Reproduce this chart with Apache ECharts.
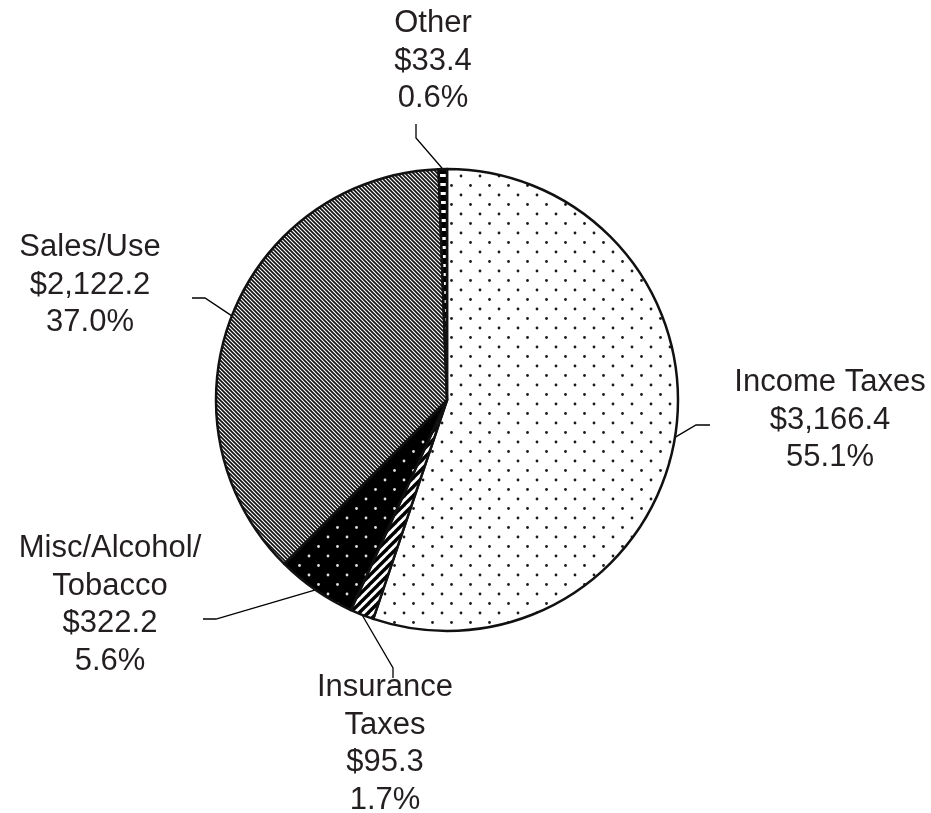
<!DOCTYPE html>
<html>
<head>
<meta charset="utf-8">
<script src="https://cdn.jsdelivr.net/npm/echarts@6/dist/echarts.min.js"></script>
<style>
  html, body { margin: 0; padding: 0; background: #fff; }
  #chart { width: 931px; height: 813px; }
</style>
</head>
<body>
<div id="chart"></div>
<script>
// slices clockwise from 12 o'clock
const names = ['Income Taxes', 'Insurance\nTaxes', 'Misc/Alcohol/\nTobacco', 'Sales/Use', 'Other'];
const amounts = ['$3,166.4', '$95.3', '$322.2', '$2,122.2', '$33.4'];
const values = [3166.4, 95.3, 322.2, 2122.2, 33.4];
const shares = ['55.1%', '1.7%', '5.6%', '37.0%', '0.6%'];

// label placement, relative to pie centre: text centre, then leader line bend / end
const labelSpots = [
  { dx: 383, dy: 20, bend: [249, 25], end: [263, 25] },
  { dx: -62, dy: 344, bend: [-54, 268], end: [-54, 278] },
  { dx: -337, dy: 205, bend: [-231, 219], end: [-244, 219] },
  { dx: -357, dy: -115, bend: [-242, -102], end: [-255, -102] },
  { dx: -14, dy: -339, bend: [-31, -262], end: [-31, -276] }
];

const cx = 447, cy = 400, R = 231;

function tile(w, h, draw) {
  const c = document.createElement('canvas');
  c.width = w; c.height = h;
  const g = c.getContext('2d');
  draw(g, w, h);
  return c;
}

function dots(bg, fg) {
  return tile(19, 19, (g, w, h) => {
    g.fillStyle = bg; g.fillRect(0, 0, w, h);
    g.fillStyle = fg;
    g.beginPath(); g.arc(5, 5, 1.4, 0, Math.PI * 2); g.fill();
    g.beginPath(); g.arc(14.5, 14.5, 1.4, 0, Math.PI * 2); g.fill();
  });
}

const patterns = [
  dots('#fff', '#1a1a1a'),
  tile(9, 9, (g, w, h) => {
    g.fillStyle = '#fff'; g.fillRect(0, 0, w, h);
    g.strokeStyle = '#000'; g.lineWidth = 3.4;
    for (let k = -1; k <= 1; k++) {
      g.beginPath(); g.moveTo(k * w - 1, h + 1); g.lineTo(k * w + w + 1, -1); g.stroke();
    }
  }),
  dots('#000', '#e0e0e0'),
  tile(4, 4, (g, w, h) => {
    g.fillStyle = '#fff'; g.fillRect(0, 0, w, h);
    g.strokeStyle = '#111'; g.lineWidth = 1.7;
    for (let k = -1; k <= 1; k++) {
      g.beginPath(); g.moveTo(k * w - 1, -1); g.lineTo(k * w + w + 1, h + 1); g.stroke();
    }
  }),
  tile(9, 9, (g, w, h) => {
    g.fillStyle = '#000'; g.fillRect(0, 0, w, h);
    g.fillStyle = '#fff'; g.fillRect(0, 3, w, 3);
  })
];

const chart = echarts.init(document.getElementById('chart'));

chart.setOption({
  animation: false,
  series: [{
    type: 'pie',
    center: [cx, cy],
    radius: [0, R],
    startAngle: 90,
    clockwise: true,
    silent: true,
    itemStyle: { borderColor: '#111', borderWidth: 2.5 },
    label: {
      show: true,
      formatter: (p) => names[p.dataIndex] + '\n' + amounts[p.dataIndex] + '\n' + shares[p.dataIndex],
      fontFamily: 'Liberation Sans, Arial, sans-serif',
      fontSize: 31,
      lineHeight: 37.5,
      color: '#231f20',
      align: 'center'
    },
    labelLine: { show: true, lineStyle: { color: '#000', width: 1.3 } },
    labelLayout: (params) => {
      const s = labelSpots[params.dataIndex];
      const lp = params.labelLinePoints;
      return {
        x: cx + s.dx,
        y: cy + s.dy,
        align: 'center',
        verticalAlign: 'middle',
        labelLinePoints: [
          lp[0],
          [cx + s.bend[0], cy + s.bend[1]],
          [cx + s.end[0], cy + s.end[1]]
        ]
      };
    },
    data: values.map((v, i) => ({
      value: v,
      itemStyle: { color: { image: patterns[i], repeat: 'repeat' } }
    }))
  }]
});
</script>
</body>
</html>
